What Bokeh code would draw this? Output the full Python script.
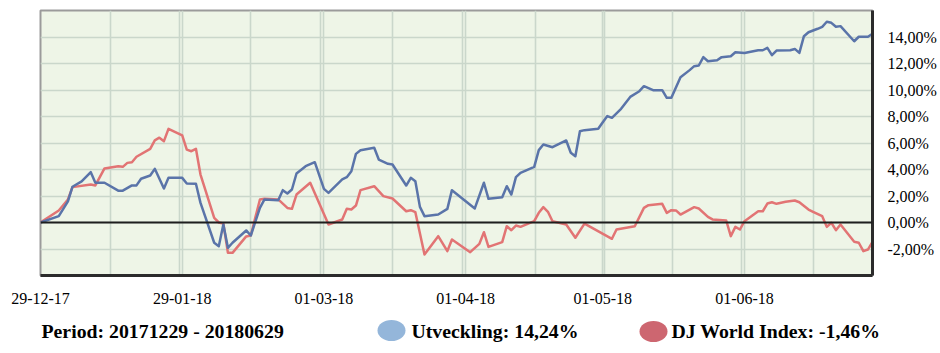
import pandas as pd
from bokeh.plotting import figure
from bokeh.layouts import column
from bokeh.models import Range1d, FixedTicker, CustomJSTickFormatter, DatetimeTickFormatter, Span, Label
from bokeh.embed import file_html
from bokeh.resources import INLINE

# ---------------- data ----------------
fund_name = "Utveckling"
index_name = "DJ World Index"

fund_dates = [
    "2017-12-29", "2018-01-02", "2018-01-04", "2018-01-05", "2018-01-07", "2018-01-09", "2018-01-10",
    "2018-01-12", "2018-01-15", "2018-01-16", "2018-01-18", "2018-01-19", "2018-01-20", "2018-01-22",
    "2018-01-23", "2018-01-25", "2018-01-26", "2018-01-29", "2018-01-30", "2018-02-01", "2018-02-02",
    "2018-02-05", "2018-02-06", "2018-02-07", "2018-02-08", "2018-02-09", "2018-02-12", "2018-02-13",
    "2018-02-15", "2018-02-16", "2018-02-19", "2018-02-20", "2018-02-21", "2018-02-22", "2018-02-23",
    "2018-02-25", "2018-02-27", "2018-03-01", "2018-03-02", "2018-03-05", "2018-03-06", "2018-03-07",
    "2018-03-08", "2018-03-09", "2018-03-12", "2018-03-13", "2018-03-15", "2018-03-16", "2018-03-19",
    "2018-03-20", "2018-03-21", "2018-03-22", "2018-03-23", "2018-03-26", "2018-03-28", "2018-03-29",
    "2018-04-03", "2018-04-05", "2018-04-06", "2018-04-09", "2018-04-10", "2018-04-11", "2018-04-12",
    "2018-04-13", "2018-04-16", "2018-04-17", "2018-04-18", "2018-04-20", "2018-04-23", "2018-04-24",
    "2018-04-25", "2018-04-26", "2018-04-27", "2018-04-30", "2018-05-01", "2018-05-02", "2018-05-03",
    "2018-05-05", "2018-05-07", "2018-05-09", "2018-05-10", "2018-05-12", "2018-05-14", "2018-05-15",
    "2018-05-16", "2018-05-18", "2018-05-20", "2018-05-21", "2018-05-22", "2018-05-23", "2018-05-24",
    "2018-05-26", "2018-05-27", "2018-05-29", "2018-05-30", "2018-06-01", "2018-06-04", "2018-06-05",
    "2018-06-06", "2018-06-07", "2018-06-08", "2018-06-11", "2018-06-12", "2018-06-13", "2018-06-14",
    "2018-06-15", "2018-06-17", "2018-06-18", "2018-06-19", "2018-06-20", "2018-06-21", "2018-06-22",
    "2018-06-25", "2018-06-26", "2018-06-28", "2018-06-29",
]
fund_values = [
    0.00, 0.48, 1.60, 2.70, 3.10, 3.80, 3.00,
    3.00, 2.40, 2.40, 2.80, 2.80, 3.30, 3.55,
    4.05, 2.57, 3.37, 3.37, 2.94, 2.92, 1.48,
    -1.53, -1.79, -0.15, -1.91, -1.53, -0.60, -0.98,
    1.10, 1.74, 1.68, 2.44, 2.19, 2.49, 3.70,
    4.25, 4.55, 2.54, 2.24, 3.25, 3.42, 3.87,
    5.18, 5.46, 5.64, 4.75, 4.43, 4.38, 2.79,
    3.37, 3.12, 1.18, 0.48, 0.60, 1.03, 2.44,
    1.06, 3.00, 1.79, 1.91, 2.74, 2.11, 3.42,
    3.75, 4.20, 5.46, 5.89, 5.68, 6.19, 5.26,
    5.00, 6.89, 6.97, 7.07, 7.57, 8.03, 7.90,
    8.58, 9.48, 9.91, 10.29, 9.99, 9.99, 9.41,
    9.41, 10.97, 11.50, 11.80, 11.85, 12.48, 12.17,
    12.25, 12.48, 12.55, 12.85, 12.80, 13.00, 13.00,
    13.18, 12.63, 12.98, 13.00, 13.10, 12.80, 14.06,
    14.36, 14.62, 14.77, 15.15, 15.07, 14.77, 14.82,
    13.68, 14.02, 14.02, 14.24,
]

index_dates = [
    "2017-12-29", "2018-01-02", "2018-01-04", "2018-01-05", "2018-01-09", "2018-01-10", "2018-01-12",
    "2018-01-15", "2018-01-16", "2018-01-17", "2018-01-18", "2018-01-19", "2018-01-22", "2018-01-23",
    "2018-01-24", "2018-01-25", "2018-01-26", "2018-01-29", "2018-01-30", "2018-01-31", "2018-02-01",
    "2018-02-02", "2018-02-05", "2018-02-06", "2018-02-07", "2018-02-08", "2018-02-09", "2018-02-12",
    "2018-02-13", "2018-02-15", "2018-02-16", "2018-02-19", "2018-02-21", "2018-02-22", "2018-02-23",
    "2018-02-26", "2018-03-02", "2018-03-05", "2018-03-06", "2018-03-07", "2018-03-08", "2018-03-09",
    "2018-03-12", "2018-03-14", "2018-03-16", "2018-03-19", "2018-03-20", "2018-03-21", "2018-03-23",
    "2018-03-26", "2018-03-28", "2018-03-29", "2018-04-02", "2018-04-04", "2018-04-05", "2018-04-06",
    "2018-04-09", "2018-04-10", "2018-04-11", "2018-04-12", "2018-04-13", "2018-04-16", "2018-04-17",
    "2018-04-18", "2018-04-19", "2018-04-20", "2018-04-23", "2018-04-25", "2018-04-27", "2018-05-03",
    "2018-05-04", "2018-05-08", "2018-05-10", "2018-05-11", "2018-05-14", "2018-05-15", "2018-05-16",
    "2018-05-17", "2018-05-18", "2018-05-21", "2018-05-22", "2018-05-24", "2018-05-25", "2018-05-28",
    "2018-05-29", "2018-05-30", "2018-05-31", "2018-06-01", "2018-06-04", "2018-06-05", "2018-06-06",
    "2018-06-07", "2018-06-08", "2018-06-10", "2018-06-12", "2018-06-13", "2018-06-15", "2018-06-16",
    "2018-06-18", "2018-06-19", "2018-06-20", "2018-06-21", "2018-06-22", "2018-06-25", "2018-06-26",
    "2018-06-27", "2018-06-28", "2018-06-29",
]
index_values = [
    0.00, 0.90, 1.74, 2.67, 2.87, 2.80, 4.08,
    4.25, 4.20, 4.50, 4.55, 4.96, 5.56, 6.20,
    6.40, 6.14, 7.07, 6.57, 5.50, 5.38, 5.56,
    3.62, 0.35, 0.00, -0.08, -2.29, -2.29, -1.05,
    -0.98, 1.74, 1.79, 1.74, 1.10, 1.03, 2.11,
    3.00, -0.15, 0.23, 1.03, 0.98, 1.28, 2.44,
    2.74, 1.99, 1.81, 0.85, 0.93, 0.78, -2.42,
    -1.03, -2.16, -1.28, -2.24, -1.61, -0.73, -1.84,
    -1.48, -0.28, -0.58, -0.23, -0.33, 0.10, 0.73,
    1.16, 0.81, 0.10, -0.15, -1.15, -0.08, -1.23,
    -0.53, -0.28, 1.10, 1.31, 1.41, 0.73, 0.93,
    0.91, 0.60, 1.16, 1.06, 0.43, 0.23, 0.15,
    -1.03, -0.33, -0.53, 0.10, 0.85, 0.85, 1.43,
    1.53, 1.41, 1.56, 1.66, 1.53, 0.98, 0.81,
    0.48, -0.33, -0.02, -0.58, -0.15, -1.46, -1.53,
    -2.16, -2.04, -1.46,
]

period_start = "2017-12-29"
period_end = "2018-06-29"
x_tick_dates = ["2017-12-29", "2018-01-29", "2018-03-01", "2018-04-01", "2018-05-01", "2018-06-01"]
y_ticks = [-2, 0, 2, 4, 6, 8, 10, 12, 14]
y_min, y_max = -4, 16

# ---------------- styling ----------------
FUND_COLOR = "#5a74a9"
INDEX_COLOR = "#e27474"
FUND_DOT = "#94b6da"
INDEX_DOT = "#cd6670"
GRID = "#cad7cb"
SERIF = "Liberation Serif"

LEFT, RIGHT = 40, 872
W, H_MAIN, H_LEG = 940, 310, 43


def ms(d):
    return pd.Timestamp(d).value / 1e6


x0 = pd.Timestamp(period_start)
x1 = pd.Timestamp(period_end)
grid_days = [15.3, 30.3, 45.9, 61.25, 77.1, 92.4, 108.3, 123.4, 138.2, 153.3, 169.0]
grid_ms = [ms(x0) + d * 86400000 for d in grid_days] + [ms(d) for d in x_tick_dates[1:]]

p = figure(
    width=W, height=H_MAIN, title=None,
    x_axis_type="datetime", y_axis_location="right",
    x_range=Range1d(x0, x1), y_range=Range1d(y_min, y_max),
    output_backend="svg", toolbar_location=None,
    min_border_left=LEFT, min_border_right=W - RIGHT, min_border_top=10, min_border_bottom=35,
    background_fill_color="#eef5e7", border_fill_color="white",
)
p.outline_line_color = "#9b9b9b"
p.outline_line_width = 2

p.xgrid.ticker = FixedTicker(ticks=grid_ms)
p.xgrid.grid_line_color = GRID
p.xgrid.grid_line_width = 1.6
p.ygrid.ticker = FixedTicker(ticks=y_ticks)
p.ygrid.grid_line_color = GRID
p.ygrid.grid_line_width = 1.6

p.add_layout(Span(location=0, dimension="width", line_color="#1e1e1e", line_width=2))

xa = p.xaxis[0]
xa.ticker = FixedTicker(ticks=[ms(d) for d in x_tick_dates])
fmt = "%d-%m-%y"
xa.formatter = DatetimeTickFormatter(
    microseconds=fmt, milliseconds=fmt, seconds=fmt, minsec=fmt, minutes=fmt,
    hourmin=fmt, hours=fmt, days=fmt, months=fmt, years=fmt,
)
ya = p.yaxis[0]
ya.ticker = FixedTicker(ticks=y_ticks)
ya.formatter = CustomJSTickFormatter(code="return tick.toFixed(2).replace('.', ',') + '%';")

for ax in (xa, ya):
    ax.axis_line_color = "#2b2b2b"
    ax.axis_line_width = 3
    ax.major_tick_line_color = None
    ax.minor_tick_line_color = None
    ax.major_label_text_font = SERIF
    ax.major_label_text_font_size = "16px"
    ax.major_label_text_color = "black"
xa.major_label_standoff = 11
ya.major_label_standoff = 9

p.line(pd.to_datetime(index_dates), index_values, line_color=INDEX_COLOR, line_width=2.5, line_join="round")
p.line(pd.to_datetime(fund_dates), fund_values, line_color=FUND_COLOR, line_width=2.5, line_join="round")

# ---------------- legend strip ----------------
def pct(v):
    return f"{v:.2f}".replace(".", ",") + "%"


period_text = f"Period: {period_start.replace('-', '')} - {period_end.replace('-', '')}"
fund_text = f"{fund_name}: {pct(fund_values[-1])}"
index_text = f"{index_name}: {pct(index_values[-1])}"

q = figure(
    width=W, height=H_LEG, title=None,
    y_range=Range1d(H_LEG, 0),
    x_axis_location=None, y_axis_location=None,
    output_backend="svg", toolbar_location=None,
    min_border_top=0, min_border_bottom=0,
    background_fill_color="white", border_fill_color="white",
)
if "frame_align" in q.properties():
    # let the legend strip use the full page width
    p.frame_align = False
    q.frame_align = False
    q.x_range = Range1d(0, W)
    q.min_border_left = 0
    q.min_border_right = 0
    shift = 0
else:
    q.x_range = Range1d(LEFT, RIGHT)
    q.min_border_left = LEFT
    q.min_border_right = W - RIGHT
    shift = -9
q.outline_line_color = None
q.grid.visible = False
q.ellipse(x=[391, 653 + shift], y=[20, 21], width=28, height=21,
          fill_color=[FUND_DOT, INDEX_DOT], line_color=None)
for lx, txt in ((41, period_text), (411, fund_text), (671 + shift, index_text)):
    q.add_layout(Label(
        x=lx, y=20, text=txt, text_font=SERIF, text_font_style="bold", text_font_size="19.8px",
        text_color="black", text_baseline="middle", text_align="left",
    ))

layout = column(p, q, spacing=0)
open("out.html", "w").write(file_html(layout, INLINE))
